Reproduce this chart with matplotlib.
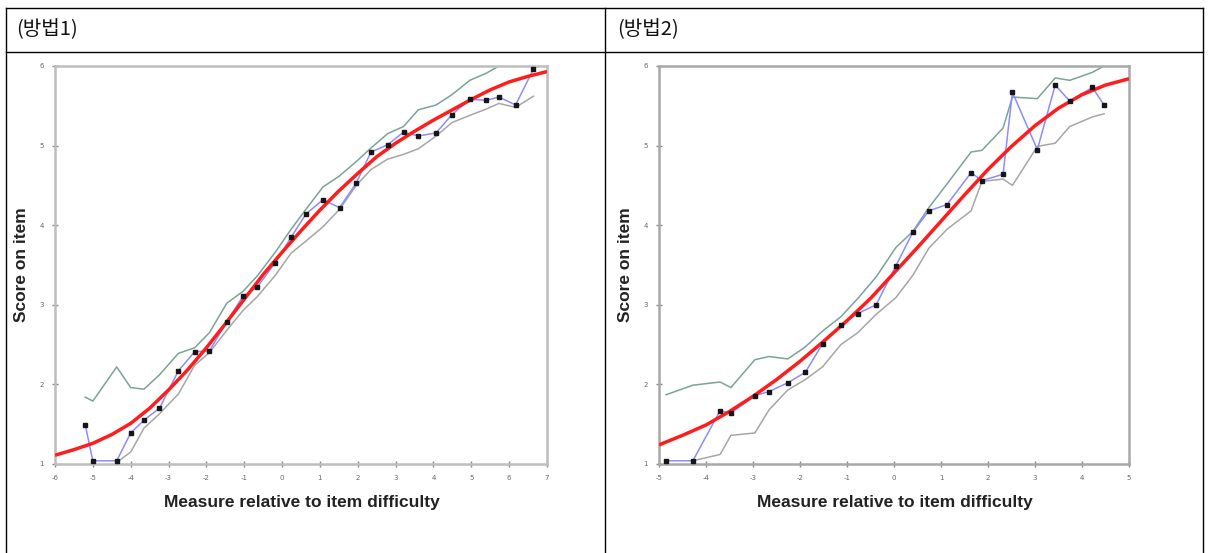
import matplotlib
matplotlib.use("Agg")
import matplotlib.pyplot as plt
from matplotlib.lines import Line2D

plt.rcParams["axes.unicode_minus"] = False

# ---------------- data: chart 1 (방법1) ----------------
c1_x = [-5.2, -5.0, -4.37, -4.0, -3.65, -3.24, -2.74, -2.31, -1.92, -1.46, -1.03, -0.66, -0.18,
        0.24, 0.63, 1.08, 1.52, 1.96, 2.35, 2.79, 3.21, 3.60, 4.07, 4.49, 4.96, 5.40, 5.73, 6.17, 6.64]
c1_y = [1.49, 1.04, 1.04, 1.39, 1.55, 1.70, 2.17, 2.41, 2.42, 2.79, 3.11, 3.22, 3.53,
        3.85, 4.14, 4.32, 4.22, 4.53, 4.92, 5.01, 5.17, 5.12, 5.16, 5.39, 5.58, 5.57, 5.61, 5.51, 5.96]
c1_up = [1.84, 1.79, 2.22, 1.96, 1.94, 2.12, 2.39, 2.46, 2.65, 3.02, 3.17, 3.36, 3.66,
         3.95, 4.20, 4.48, 4.62, 4.80, 4.97, 5.15, 5.24, 5.45, 5.51, 5.64, 5.82, 5.91, 6.00, 6.05, 6.10]
c1_lo_x = [-4.37, -4.0, -3.65, -3.24, -2.74, -2.31, -1.92, -1.46, -1.03, -0.66, -0.18,
           0.24, 0.63, 1.08, 1.52, 1.96, 2.35, 2.79, 3.21, 3.60, 4.07, 4.49, 4.96, 5.40, 5.73, 6.17, 6.64]
c1_lo = [1.02, 1.15, 1.45, 1.63, 1.88, 2.24, 2.40, 2.68, 2.93, 3.10, 3.37,
         3.65, 3.80, 3.98, 4.20, 4.50, 4.70, 4.83, 4.89, 4.96, 5.12, 5.29, 5.38, 5.46, 5.53, 5.48, 5.62]
c1_model_x = [-6, -5.5, -5, -4.5, -4, -3.5, -3, -2.5, -2, -1.5, -1, -0.5, 0, 0.5, 1, 1.5, 2,
              2.5, 3, 3.5, 4, 4.5, 5, 5.5, 6, 6.5, 7]
c1_model_y = [1.11, 1.18, 1.26, 1.37, 1.51, 1.70, 1.93, 2.18, 2.46, 2.76, 3.07, 3.38, 3.66,
              3.93, 4.19, 4.43, 4.65, 4.86, 5.03, 5.18, 5.32, 5.45, 5.58, 5.70, 5.80, 5.87, 5.93]
c1_xticks = list(range(-6, 8))

# ---------------- data: chart 2 (방법2) ----------------
c2_x = [-4.85, -4.28, -3.70, -3.47, -2.96, -2.66, -2.26, -1.89, -1.52, -1.13, -0.77, -0.38, 0.04,
        0.40, 0.74, 1.13, 1.64, 1.87, 2.32, 2.52, 3.05, 3.43, 3.74, 4.22, 4.47]
c2_y = [1.04, 1.04, 1.67, 1.64, 1.86, 1.91, 2.02, 2.15, 2.51, 2.75, 2.89, 3.00, 3.49,
        3.91, 4.18, 4.26, 4.66, 4.56, 4.64, 5.67, 4.95, 5.76, 5.56, 5.73, 5.51]
c2_up = [1.87, 1.99, 2.03, 1.96, 2.31, 2.35, 2.32, 2.47, 2.67, 2.85, 3.08, 3.35, 3.72,
         3.92, 4.22, 4.52, 4.92, 4.94, 5.22, 5.61, 5.59, 5.85, 5.82, 5.92, 6.00]
c2_lo_x = [-4.28, -3.70, -3.47, -2.96, -2.66, -2.26, -1.89, -1.52, -1.13, -0.77, -0.38, 0.04,
           0.40, 0.74, 1.13, 1.64, 1.87, 2.32, 2.52, 3.05, 3.43, 3.74, 4.22, 4.47]
c2_lo = [1.04, 1.12, 1.36, 1.39, 1.68, 1.93, 2.06, 2.22, 2.50, 2.65, 2.88, 3.09,
         3.37, 3.71, 3.95, 4.18, 4.55, 4.58, 4.50, 4.99, 5.03, 5.24, 5.36, 5.40]
c2_model_x = [-5, -4.5, -4, -3.5, -3, -2.5, -2, -1.5, -1, -0.5, 0, 0.5, 1, 1.5, 2,
              2.5, 3, 3.5, 4, 4.5, 5]
c2_model_y = [1.24, 1.36, 1.49, 1.66, 1.85, 2.06, 2.29, 2.54, 2.80, 3.08, 3.40, 3.72, 4.05,
              4.38, 4.70, 4.99, 5.25, 5.47, 5.64, 5.76, 5.84]
c2_xticks = list(range(-5, 6))

yticks = [1, 2, 3, 4, 5, 6]
titles = ["(방법1)", "(방법2)"]
xlabel = "Measure relative to item difficulty"
ylabel = "Score on item"

W, H = 1208, 553
fig = plt.figure(figsize=(W / 100, H / 100), dpi=100)
fig.patch.set_facecolor("white")

def fx(px):
    return px / W

def fy(py):
    return 1 - py / H

# table lines
line_kw = dict(color="black", lw=1.0, transform=fig.transFigure)
fig.add_artist(Line2D([fx(6), fx(1203)], [fy(8), fy(8)], **line_kw))
fig.add_artist(Line2D([fx(6), fx(1203)], [fy(52), fy(52)], **line_kw))
fig.add_artist(Line2D([fx(6), fx(6)], [fy(8), fy(553)], **line_kw))
fig.add_artist(Line2D([fx(605), fx(605)], [fy(8), fy(553)], **line_kw))
fig.add_artist(Line2D([fx(1203), fx(1203)], [fy(8), fy(553)], **line_kw))

fig.text(fx(16), fy(30), titles[0], fontsize=14.5, family=["Noto Sans CJK KR", "DejaVu Sans"],
         va="center", ha="left", color="#111111")
fig.text(fx(617), fy(30), titles[1], fontsize=14.5, family=["Noto Sans CJK KR", "DejaVu Sans"],
         va="center", ha="left", color="#111111")

charts = [
    dict(left=55, right=547, xlim=(-6, 7), x=c1_x, y=c1_y, up_x=c1_x, up=c1_up,
         lo_x=c1_lo_x, lo=c1_lo, mx=c1_model_x, my=c1_model_y, xticks=c1_xticks,
         spine="#bdbdbd"),
    dict(left=659, right=1129, xlim=(-5, 5), x=c2_x, y=c2_y, up_x=c2_x, up=c2_up,
         lo_x=c2_lo_x, lo=c2_lo, mx=c2_model_x, my=c2_model_y, xticks=c2_xticks,
         spine="#a8a8a8"),
]

top_px, bot_px = 66, 464
for c in charts:
    ax = fig.add_axes([fx(c["left"]), fy(bot_px), fx(c["right"] - c["left"]),
                       (bot_px - top_px) / H])
    ax.set_xlim(*c["xlim"])
    ax.set_ylim(1, 6)
    ax.plot(c["up_x"], c["up"], color="#7aa39b", lw=1.1, zorder=2)
    ax.plot(c["lo_x"], c["lo"], color="#a6a6a6", lw=1.1, zorder=2)
    ax.plot(c["x"], c["y"], color="#8c8cff", lw=1.1, zorder=3)
    ax.plot(c["mx"], c["my"], color="#ff1c1c", lw=2.5, zorder=4, solid_capstyle="butt")
    ax.plot(c["x"], c["y"], ls="none", marker="s", ms=3.4, color="#161616",
            markeredgecolor="#161616", zorder=5)
    for s in ax.spines.values():
        s.set_color(c["spine"])
        s.set_linewidth(1.8)
    ax.set_xticks(c["xticks"])
    ax.set_yticks(yticks)
    ax.tick_params(direction="inout", length=4, width=1, color="#888888",
                   labelsize=5, labelcolor="#666666", pad=6)
    ax.set_facecolor("white")
    cx = (c["left"] + c["right"]) / 2
    fig.text(fx(cx + 1), fy(502), xlabel, fontsize=12.5, fontweight="bold",
             family="Liberation Sans", color="#222222", ha="center", va="center")
    fig.text(fx(c["left"] - 33), fy(265), ylabel, fontsize=12.5, fontweight="bold",
             family="Liberation Sans", color="#222222", ha="center", va="center",
             rotation=90)

fig.savefig("out.png", dpi=100)
